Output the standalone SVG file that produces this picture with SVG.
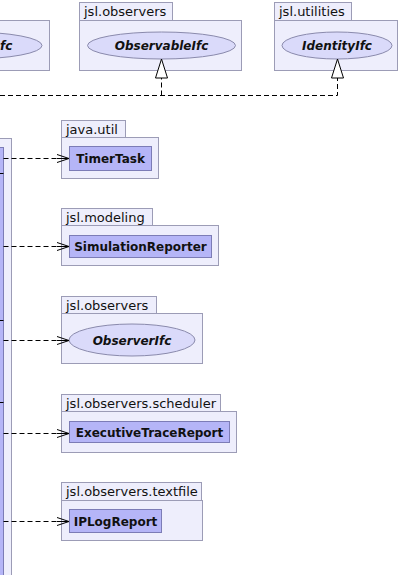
<svg xmlns="http://www.w3.org/2000/svg" width="403" height="575" viewBox="0 0 403 575">
<defs>
<style>
.pkg{fill:#eeeefc;stroke:#9c9cb6;stroke-width:1}
.cls{fill:#b5b5f7;stroke:#7c7cb6;stroke-width:1}
.ifc{fill:#dadafa;stroke:#8a8aac;stroke-width:1}
.tab{font-family:"DejaVu Sans",sans-serif;font-size:13px;fill:#111}
.cn{font-family:"DejaVu Sans",sans-serif;font-size:12px;font-weight:bold;fill:#111;text-anchor:middle}
.in{font-family:"DejaVu Sans",sans-serif;font-size:12px;font-weight:bold;font-style:italic;fill:#111;text-anchor:middle}
.dep{fill:none;stroke:#000;stroke-width:1;stroke-dasharray:5,3}
.real{fill:none;stroke:#000;stroke-width:1;stroke-dasharray:5,3}
.sep{stroke:#000;stroke-width:1}
</style>
<marker id="open" markerWidth="14" markerHeight="10" refX="12" refY="5" orient="auto" markerUnits="userSpaceOnUse">
<path d="M0,1 L12,5 L0,9 M0,5 L12,5" fill="none" stroke="#000" stroke-width="1"/>
</marker>
</defs>

<g id="left-package">
<rect class="pkg" x="-100" y="138.5" width="111.5" height="500"/>
<rect class="cls" x="-100" y="147.5" width="103.5" height="500"/>
<line class="sep" x1="-100" y1="173.5" x2="3.5" y2="173.5"/>
<line class="sep" x1="-100" y1="320.5" x2="3.5" y2="320.5"/>
<line class="sep" x1="-100" y1="402.5" x2="3.5" y2="402.5"/>
</g>

<g id="pkg-top-left">
<rect class="pkg" x="-100" y="20.5" width="149.5" height="50"/>
<ellipse class="ifc" cx="-30" cy="45.5" rx="72" ry="13.5"/>
<text class="in" x="0" y="50" style="text-anchor:start">fc</text>
</g>

<g id="pkg-jsl-observers-top">
<rect class="pkg" x="79.5" y="2.5" width="93" height="18"/>
<text class="tab" x="84" y="16">jsl.observers</text>
<rect class="pkg" x="79.5" y="20.5" width="162" height="50"/>
<ellipse class="ifc" cx="161.5" cy="45.5" rx="74" ry="13.5"/>
<text class="in" x="161.5" y="50">ObservableIfc</text>
</g>

<g id="pkg-jsl-utilities">
<rect class="pkg" x="274.5" y="2.5" width="77" height="18"/>
<text class="tab" x="279" y="16">jsl.utilities</text>
<rect class="pkg" x="274.5" y="20.5" width="123" height="50"/>
<ellipse class="ifc" cx="337" cy="45.5" rx="55" ry="13.5"/>
<text class="in" x="337" y="50">IdentityIfc</text>
</g>

<g id="pkg-java-util">
<rect class="pkg" x="61.5" y="120.5" width="64" height="17"/>
<text class="tab" x="66" y="134">java.util</text>
<rect class="pkg" x="61.5" y="137.5" width="97" height="41"/>
<rect class="cls" x="69.5" y="146.5" width="82" height="24"/>
<text class="cn" x="110.5" y="163">TimerTask</text>
</g>

<g id="pkg-jsl-modeling">
<rect class="pkg" x="61.5" y="208.5" width="91" height="17"/>
<text class="tab" x="66" y="222">jsl.modeling</text>
<rect class="pkg" x="61.5" y="225.5" width="157" height="40"/>
<rect class="cls" x="69.5" y="235.5" width="142" height="22"/>
<text class="cn" x="140.5" y="251">SimulationReporter</text>
</g>

<g id="pkg-jsl-observers">
<rect class="pkg" x="61.5" y="296.5" width="95" height="17"/>
<text class="tab" x="66" y="310">jsl.observers</text>
<rect class="pkg" x="61.5" y="313.5" width="141" height="50"/>
<ellipse class="ifc" cx="132" cy="340" rx="63" ry="16"/>
<text class="in" x="132" y="345">ObserverIfc</text>
</g>

<g id="pkg-jsl-observers-scheduler">
<rect class="pkg" x="61.5" y="394.5" width="159" height="17"/>
<text class="tab" x="66" y="408">jsl.observers.scheduler</text>
<rect class="pkg" x="61.5" y="411.5" width="175" height="41"/>
<rect class="cls" x="69.5" y="421.5" width="160" height="21"/>
<text class="cn" x="149.5" y="437">ExecutiveTraceReport</text>
</g>

<g id="pkg-jsl-observers-textfile">
<rect class="pkg" x="61.5" y="482.5" width="140" height="18"/>
<text class="tab" x="66" y="496">jsl.observers.textfile</text>
<rect class="pkg" x="61.5" y="500.5" width="141" height="40"/>
<rect class="cls" x="69.5" y="509.5" width="92" height="23"/>
<text class="cn" x="115.5" y="526">IPLogReport</text>
</g>

<g id="connectors">
<path class="real" d="M0,95.5 H337.5 V78"/>
<path class="real" d="M161.5,95.5 V78"/>
<polygon points="161.5,59 155.5,78 167.5,78" fill="#fff" stroke="#000" stroke-width="1"/>
<polygon points="337.5,59 331.5,78 343.5,78" fill="#fff" stroke="#000" stroke-width="1"/>
<line class="dep" x1="3.5" y1="158.5" x2="69" y2="158.5" marker-end="url(#open)"/>
<line class="dep" x1="3.5" y1="246.5" x2="69" y2="246.5" marker-end="url(#open)"/>
<line class="dep" x1="3.5" y1="340.5" x2="69" y2="340.5" marker-end="url(#open)"/>
<line class="dep" x1="3.5" y1="433.5" x2="69" y2="433.5" marker-end="url(#open)"/>
<line class="dep" x1="3.5" y1="521.5" x2="69" y2="521.5" marker-end="url(#open)"/>
</g>
</svg>
